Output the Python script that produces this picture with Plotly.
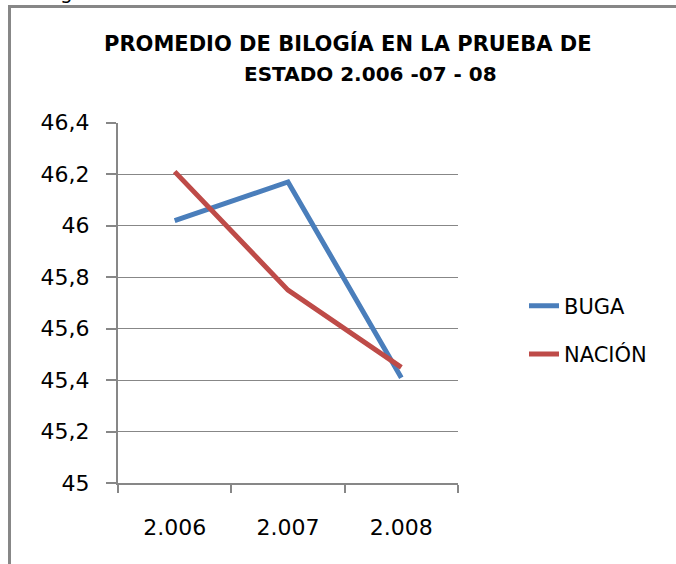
import plotly.graph_objects as go

# datos
anios = ['2.006', '2.007', '2.008']
buga = [46.02, 46.17, 45.41]
nacion = [46.21, 45.75, 45.45]

W, H = 676, 564
gris = '#878787'


def px_x(v):
    return v / W


def px_y(v):
    return 1 - v / H


fig = go.Figure()

fig.add_trace(go.Scatter(
    x=anios, y=buga, name='BUGA', mode='lines',
    line=dict(color='#4A7EBB', width=5),
    legendgroup='a'
))
fig.add_trace(go.Scatter(
    x=anios, y=nacion, name='NACIÓN', mode='lines',
    line=dict(color='#BE4B48', width=5),
    legendgroup='b'
))

fig.update_layout(
    width=W, height=H,
    margin=dict(l=0, r=0, t=0, b=0, autoexpand=False),
    paper_bgcolor='white',
    plot_bgcolor='white',
    separators=',.',
    font=dict(family='DejaVu Sans', color='black'),
    showlegend=True,
    legend=dict(
        x=px_x(524), y=px_y(330), xanchor='left', yanchor='middle',
        font=dict(size=21, family='DejaVu Sans'),
        traceorder='grouped', tracegroupgap=18,
        bgcolor='rgba(0,0,0,0)'
    ),
    annotations=[
        dict(
            text='<b>PROMEDIO DE BILOGÍA EN LA PRUEBA DE</b>',
            x=px_x(348), y=px_y(43), xref='paper', yref='paper',
            xanchor='center', yanchor='middle', showarrow=False,
            font=dict(size=21, family='DejaVu Sans')
        ),
        dict(
            text='<b>ESTADO 2.006 -07 - 08</b>',
            x=px_x(370), y=px_y(74), xref='paper', yref='paper',
            xanchor='center', yanchor='middle', showarrow=False,
            font=dict(size=20, family='DejaVu Sans')
        ),
        dict(
            text='g', x=px_x(66), y=px_y(-8), xref='paper', yref='paper',
            xanchor='center', yanchor='middle', showarrow=False,
            font=dict(size=20, family='DejaVu Sans')
        ),
    ],
    shapes=[
        dict(type='line', xref='paper', yref='paper',
             x0=px_x(9.5), x1=px_x(9.5), y0=0, y1=px_y(6.5),
             line=dict(color=gris, width=3)),
        dict(type='line', xref='paper', yref='paper',
             x0=px_x(8), x1=1, y0=px_y(6.5), y1=px_y(6.5),
             line=dict(color=gris, width=3)),
    ]
)

fig.update_xaxes(
    domain=[px_x(118), px_x(458)],
    type='category',
    tickson='boundaries',
    ticks='outside', ticklen=8, tickcolor=gris, tickwidth=1.5,
    showline=True, linecolor=gris, linewidth=1.5,
    showgrid=False, automargin=False,
    tickfont=dict(size=22, family='DejaVu Sans'),
    ticklabelstandoff=24,
    range=[-0.5, 2.5]
)
fig.update_yaxes(
    domain=[px_y(483.3), px_y(122.7)],
    range=[45, 46.4],
    dtick=0.2, tick0=45,
    ticks='outside', ticklen=10, tickcolor=gris, tickwidth=1.5,
    showline=True, linecolor=gris, linewidth=2,
    showgrid=True, gridcolor=gris, gridwidth=1.2,
    zeroline=False, automargin=False,
    tickfont=dict(size=22, family='DejaVu Sans'),
    ticklabelstandoff=12
)

# fijar el grafico en la esquina de la ventana
js = ("document.body.style.margin='0';"
      "document.body.style.overflow='hidden';"
      "var d=document.querySelector('.plotly-graph-div');"
      "d.style.position='fixed';d.style.top='0px';d.style.left='0px';")

fig.write_html('out.html', config={'displayModeBar': False}, post_script=js)
